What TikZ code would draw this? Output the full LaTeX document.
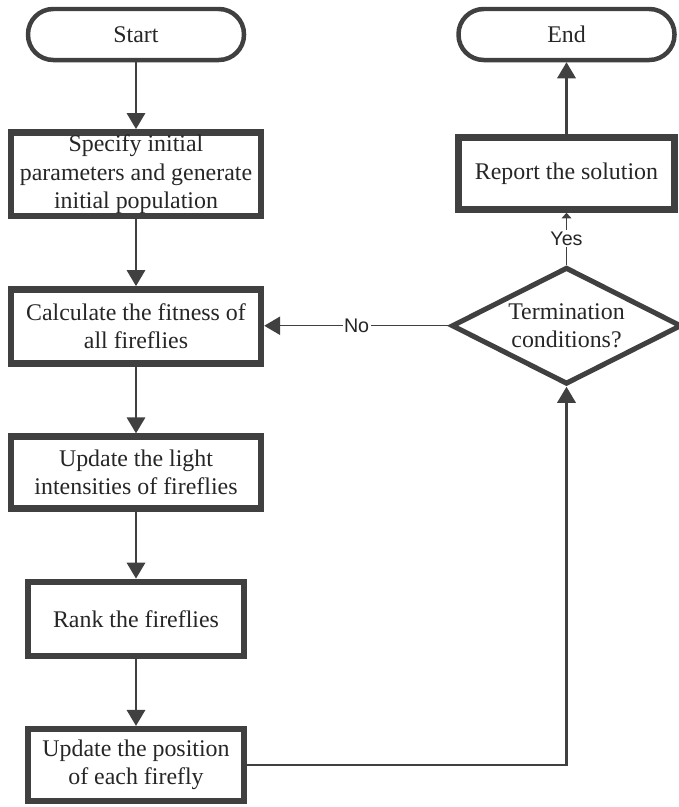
\documentclass[tikz,border=0pt]{standalone}
\usepackage{fontspec}
\setmainfont{Liberation Serif}
\newfontfamily\labelfont{Liberation Sans}
\usepackage{tikz}
\usetikzlibrary{positioning,arrows.meta,shapes.geometric}
\definecolor{linegray}{HTML}{404040}
\tikzset{
terminal/.style={
draw=linegray,
line width=3.2pt,
rounded corners=0.63cm,
minimum width=5.4cm,
minimum height=1.275cm,
align=center,
text=black!85,
font=\fontsize{17}{20}\selectfont
},
stepbox/.style={
draw=linegray,
line width=4.6pt,
minimum width=6.25cm,
minimum height=1.85cm,
inner sep=2pt,
align=center,
text=black!85,
font=\fontsize{17}{20}\selectfont
},
narrowbox/.style={
stepbox,
minimum width=5.4cm
},
decision/.style={
draw=linegray,
diamond,
aspect=2,
line width=3.6pt,
minimum width=5.75cm,
minimum height=2.925cm,
inner sep=0pt,
align=center,
text=black!85,
font=\fontsize{17}{20}\selectfont
},
arrow/.style={
-{Triangle[length=4mm,width=4.6mm]},
draw=linegray,
line width=1.5pt
},
smallarrow/.style={
-{Triangle[length=1.4mm,width=2.4mm]},
draw=linegray,
line width=1pt
},
edgelabel/.style={
fill=white,
inner sep=1pt,
text=black!85,
font=\labelfont\fontsize{14}{16}\selectfont
}
}
\begin{document}
\begin{tikzpicture}[node distance=1.67cm]
\useasboundingbox (0,0) rectangle (16.975,-20.175);
\node[terminal] (start) at (3.4,-0.8625) {Start};
\node[stepbox,below=of start,minimum height=2cm] (init) {Specify initial\\parameters and generate\\initial population};
\node[stepbox,below=of init] (fit) {Calculate the fitness of\\all fireflies};
\node[stepbox,below=of fit,minimum height=1.8cm] (light) {Update the light\\intensities of fireflies};
\node[narrowbox,below=of light] (rank) {Rank the fireflies};
\node[narrowbox,below=of rank,minimum height=1.8cm] (move) {Update the position\\of each firefly};
\node[terminal,right=5.25cm of start] (stop) {End};
\node[narrowbox,below=1.8cm of stop,minimum height=1.8cm] (report) {Report the solution};
\node[decision,below=1.3cm of report] (cond) {Termination\\conditions?};

\draw[arrow](start)--(init);
\draw[arrow](init)--(fit);
\draw[arrow](fit)--(light);
\draw[arrow](light)--(rank);
\draw[arrow](rank)--(move);
\draw[arrow](move.east)-|(cond.south);
\draw[arrow,line width=1pt](cond.west)--node[edgelabel]{No}(cond.west-|fit.east);
\draw[smallarrow](cond.north)--node[edgelabel]{Yes}(report.south);
\draw[arrow](report)--(stop);
\end{tikzpicture}
\end{document}
